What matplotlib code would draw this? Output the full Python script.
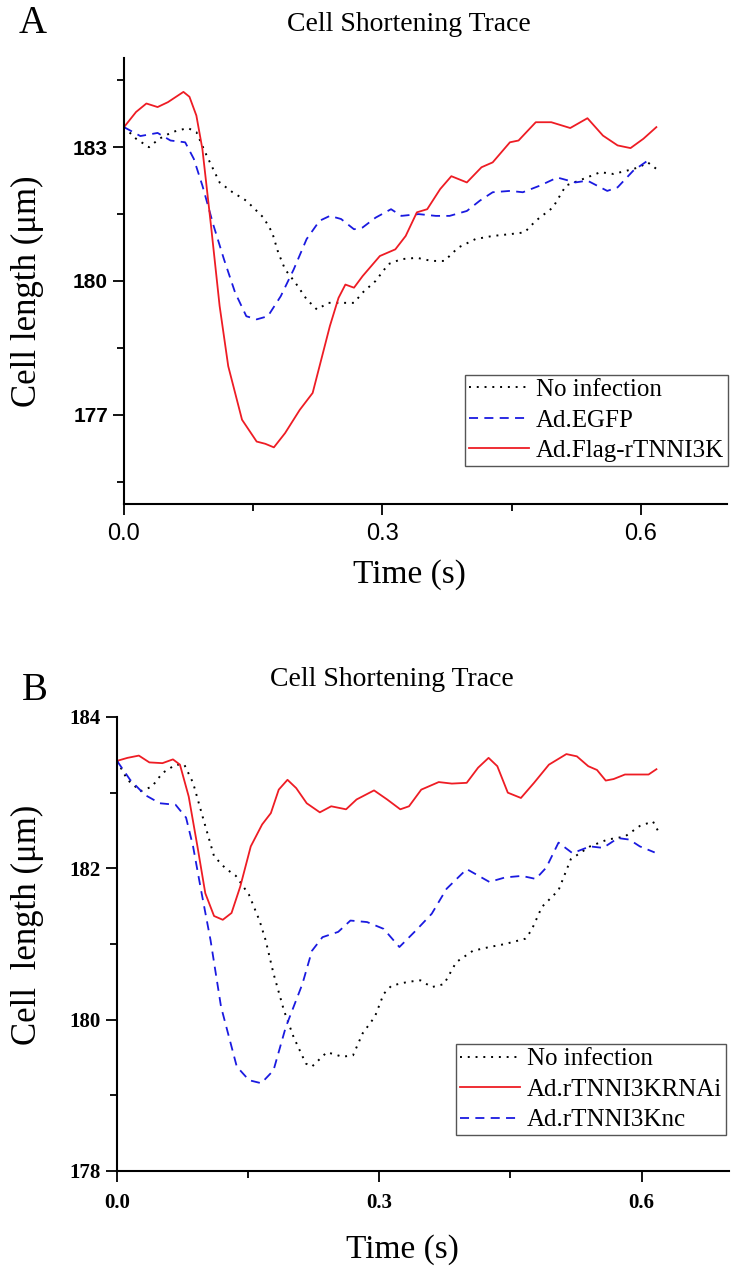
import matplotlib.pyplot as plt

# ---- data (time in s, length in um) ----
# Panel A
a_none_t = [0, 0.014, 0.029, 0.041, 0.056, 0.074, 0.084, 0.096, 0.111, 0.126, 0.142, 0.162, 0.172,
            0.179, 0.187, 0.199, 0.212, 0.224, 0.237, 0.252, 0.267, 0.277, 0.292, 0.307, 0.322,
            0.340, 0.357, 0.372, 0.388, 0.408, 0.428, 0.448, 0.465, 0.478, 0.498, 0.513, 0.528,
            0.553, 0.568, 0.583, 0.598, 0.608, 0.621]
a_none_y = [183.45, 183.19, 183.0, 183.19, 183.34, 183.43, 183.34, 182.81, 182.21, 181.99, 181.80,
            181.42, 181.09, 180.64, 180.26, 179.96, 179.59, 179.36, 179.51, 179.51, 179.51, 179.74,
            180.0, 180.38, 180.49, 180.52, 180.45, 180.45, 180.75, 180.94, 181.01, 181.05, 181.09,
            181.35, 181.65, 182.14, 182.25, 182.44, 182.40, 182.47, 182.55, 182.66, 182.47]

a_egfp_t = [0, 0.019, 0.039, 0.054, 0.071, 0.081, 0.091, 0.104, 0.116, 0.129, 0.142, 0.154, 0.167,
            0.182, 0.197, 0.212, 0.227, 0.239, 0.252, 0.267, 0.277, 0.292, 0.310, 0.322, 0.342,
            0.362, 0.378, 0.398, 0.413, 0.428, 0.448, 0.463, 0.483, 0.503, 0.524, 0.538, 0.561,
            0.573, 0.591, 0.608, 0.613]
a_egfp_y = [183.45, 183.25, 183.32, 183.15, 183.11, 182.74, 182.14, 181.24, 180.49, 179.74, 179.21,
            179.14, 179.21, 179.66, 180.26, 180.94, 181.35, 181.46, 181.39, 181.16, 181.20, 181.42,
            181.61, 181.46, 181.50, 181.46, 181.46, 181.57, 181.80, 181.99, 182.02, 181.99, 182.14,
            182.32, 182.21, 182.25, 182.02, 182.10, 182.47, 182.70, 182.68]

a_flag_t = [0, 0.014, 0.026, 0.039, 0.051, 0.069, 0.076, 0.084, 0.091, 0.101, 0.111, 0.121, 0.137,
            0.154, 0.164, 0.174, 0.187, 0.204, 0.219, 0.229, 0.239, 0.249, 0.257, 0.267, 0.277,
            0.297, 0.315, 0.327, 0.340, 0.352, 0.367, 0.380, 0.398, 0.415, 0.428, 0.448, 0.458,
            0.478, 0.496, 0.518, 0.538, 0.556, 0.573, 0.588, 0.603, 0.618]
a_flag_y = [183.45, 183.79, 183.98, 183.90, 184.01, 184.24, 184.13, 183.71, 182.96, 181.24, 179.44,
            178.09, 176.89, 176.40, 176.35, 176.27, 176.59, 177.11, 177.49, 178.24, 178.99, 179.62,
            179.92, 179.85, 180.11, 180.56, 180.71, 181.01, 181.54, 181.61, 182.06, 182.35, 182.21,
            182.55, 182.66, 183.11, 183.15, 183.56, 183.56, 183.43, 183.65, 183.26, 183.04, 182.98,
            183.19, 183.45]

# Panel B
b_none_t = [0, 0.012, 0.027, 0.040, 0.052, 0.067, 0.077, 0.087, 0.099, 0.111, 0.124, 0.136, 0.151,
            0.163, 0.170, 0.179, 0.191, 0.202, 0.216, 0.223, 0.240, 0.258, 0.270, 0.281, 0.295,
            0.305, 0.314, 0.333, 0.347, 0.360, 0.374, 0.388, 0.407, 0.426, 0.444, 0.467, 0.474,
            0.486, 0.505, 0.519, 0.541, 0.561, 0.581, 0.598, 0.613, 0.620]
b_none_y = [183.42, 183.17, 183.02, 183.08, 183.26, 183.37, 183.37, 183.13, 182.64, 182.16, 182.00,
            181.90, 181.65, 181.31, 181.05, 180.61, 180.12, 179.77, 179.42, 179.38, 179.57, 179.51,
            179.53, 179.82, 180.04, 180.34, 180.45, 180.50, 180.52, 180.43, 180.47, 180.76, 180.91,
            180.96, 181.00, 181.07, 181.18, 181.49, 181.71, 182.12, 182.29, 182.38, 182.42, 182.56,
            182.62, 182.47]

b_rnai_t = [0, 0.012, 0.025, 0.037, 0.052, 0.064, 0.072, 0.082, 0.092, 0.101, 0.111, 0.121, 0.131,
            0.141, 0.153, 0.166, 0.176, 0.185, 0.195, 0.205, 0.217, 0.232, 0.245, 0.262, 0.274,
            0.294, 0.309, 0.324, 0.334, 0.348, 0.368, 0.383, 0.400, 0.413, 0.425, 0.435, 0.447,
            0.462, 0.477, 0.494, 0.514, 0.526, 0.539, 0.549, 0.559, 0.568, 0.581, 0.596, 0.608,
            0.617]
b_rnai_y = [183.42, 183.46, 183.49, 183.40, 183.39, 183.44, 183.37, 182.95, 182.29, 181.67, 181.37,
            181.32, 181.41, 181.76, 182.29, 182.58, 182.73, 183.04, 183.17, 183.06, 182.86, 182.74,
            182.82, 182.78, 182.91, 183.03, 182.91, 182.78, 182.82, 183.04, 183.14, 183.12, 183.13,
            183.33, 183.46, 183.35, 183.00, 182.93, 183.13, 183.37, 183.51, 183.48, 183.35, 183.30,
            183.16, 183.18, 183.24, 183.24, 183.24, 183.31]

b_nc_t = [0, 0.015, 0.032, 0.049, 0.067, 0.079, 0.087, 0.096, 0.107, 0.119, 0.137, 0.151, 0.165,
          0.179, 0.193, 0.212, 0.223, 0.235, 0.253, 0.267, 0.286, 0.305, 0.323, 0.342, 0.360,
          0.377, 0.400, 0.426, 0.444, 0.463, 0.479, 0.491, 0.505, 0.521, 0.541, 0.556, 0.573,
          0.586, 0.598, 0.615]
b_nc_y = [183.42, 183.17, 182.97, 182.86, 182.84, 182.67, 182.29, 181.72, 181.05, 180.17, 179.38,
          179.20, 179.16, 179.33, 179.90, 180.47, 180.91, 181.09, 181.16, 181.31, 181.29, 181.20,
          180.96, 181.18, 181.40, 181.73, 181.99, 181.82, 181.88, 181.90, 181.86, 182.01, 182.34,
          182.20, 182.29, 182.27, 182.40, 182.38, 182.29, 182.21]

W, H = 733, 1270
fig = plt.figure(figsize=(W / 100, H / 100), dpi=100)
SERIF = ['Liberation Serif', 'DejaVu Serif']
SANS = ['Liberation Sans', 'DejaVu Sans']


def box(l, t, r, b):
    return [l / W, 1 - b / H, (r - l) / W, (b - t) / H]


def ftext(x, y, s, **kw):
    fig.text(x / W, 1 - y / H, s, **kw)


dot = dict(color='black', ls=(0, (1, 3)), lw=1.4)
dash = dict(color='#1a1ae0', ls=(0, (5, 3.5)), lw=1.3)
solid = dict(color='#ee1c24', ls='-', lw=1.3)


def style_axes(ax):
    for s in ['top', 'right']:
        ax.spines[s].set_visible(False)
    for s in ['left', 'bottom']:
        ax.spines[s].set_linewidth(1.5)
    ax.tick_params(which='major', direction='out', length=8, width=1.3)
    ax.tick_params(which='minor', direction='out', length=5, width=1.3)
    ax.set_xlim(0, 0.7)
    ax.set_xticks([0, 0.3, 0.6])
    ax.set_xticks([0.15, 0.45], minor=True)
    ax.set_xticklabels(['0.0', '0.3', '0.6'])


def make_legend(ax, x, y):
    leg = ax.legend(loc='upper left', bbox_to_anchor=(x / W, 1 - y / H),
                    bbox_transform=fig.transFigure, prop={'family': SERIF, 'size': 18},
                    frameon=True, fancybox=False, edgecolor='#555555', framealpha=1,
                    borderpad=0.15, borderaxespad=0, handlelength=2.4, handletextpad=0.28,
                    labelspacing=0.32)
    leg.get_frame().set_linewidth(1.0)
    return leg


# ---------------- Panel A ----------------
axA = fig.add_axes(box(124, 58, 727, 504))
axA.plot(a_none_t, a_none_y, label='No infection', **dot)
axA.plot(a_egfp_t, a_egfp_y, label='Ad.EGFP', **dash)
axA.plot(a_flag_t, a_flag_y, label='Ad.Flag-rTNNI3K', **solid)
style_axes(axA)
axA.set_ylim(175, 185)
axA.set_yticks([177, 180, 183])
axA.set_yticks([175.5, 178.5, 181.5, 184.5], minor=True)
for lab in axA.get_yticklabels():
    lab.set_fontfamily(SANS)
    lab.set_fontweight('bold')
    lab.set_fontsize(15)
for lab in axA.get_xticklabels():
    lab.set_fontfamily(SANS)
    lab.set_fontsize(17)
axA.tick_params(axis='x', pad=6)
make_legend(axA, 465, 375)

ftext(33, 33, 'A', family=SERIF, size=28, ha='center', va='baseline')
ftext(409, 31, 'Cell Shortening Trace', family=SERIF, size=20, ha='center', va='baseline')
ftext(409, 583, 'Time (s)', family=SERIF, size=24, ha='center', va='baseline')
ftext(27, 291, 'Cell length (\u03bcm)', family=SERIF, size=25, ha='center', va='center',
      rotation=90)

# ---------------- Panel B ----------------
axB = fig.add_axes(box(117, 717, 729, 1171))
axB.plot(b_none_t, b_none_y, label='No infection', **dot)
axB.plot(b_rnai_t, b_rnai_y, label='Ad.rTNNI3KRNAi', **solid)
axB.plot(b_nc_t, b_nc_y, label='Ad.rTNNI3Knc', **dash)
style_axes(axB)
axB.set_ylim(178, 184)
axB.set_yticks([178, 180, 182, 184])
axB.set_yticks([179, 181, 183], minor=True)
for lab in axB.get_xticklabels() + axB.get_yticklabels():
    lab.set_fontfamily(SERIF)
    lab.set_fontweight('bold')
    lab.set_fontsize(15)
axB.tick_params(axis='x', pad=8)
make_legend(axB, 456, 1044)

ftext(35, 700, 'B', family=SERIF, size=28, ha='center', va='baseline')
ftext(392, 686, 'Cell Shortening Trace', family=SERIF, size=20, ha='center', va='baseline')
ftext(402, 1258, 'Time (s)', family=SERIF, size=24, ha='center', va='baseline')
ftext(27, 925, 'Cell  length (\u03bcm)', family=SERIF, size=25, ha='center', va='center',
      rotation=90)

fig.savefig('out.png', dpi=100)
